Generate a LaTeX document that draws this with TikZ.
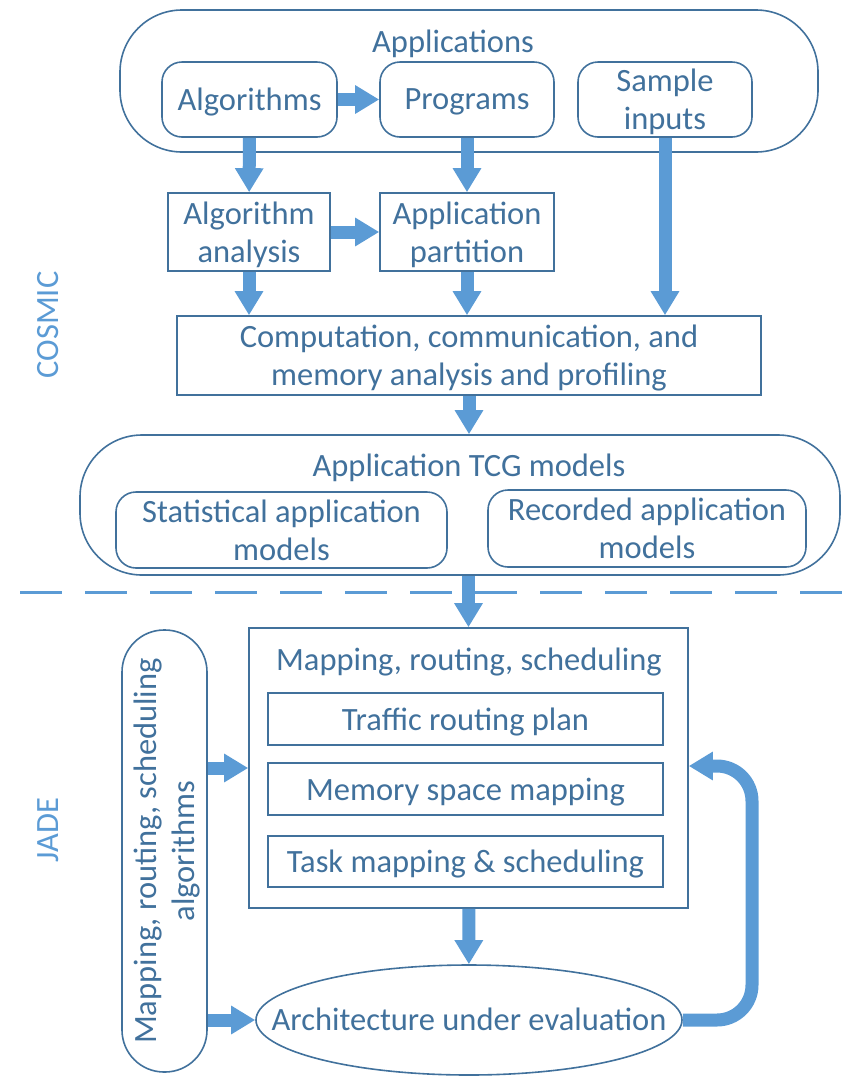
\documentclass[tikz,border=0pt]{standalone}
\usepackage{fontspec}
\setmainfont{Carlito}
\usetikzlibrary{arrows.meta,shapes.geometric}
\definecolor{lineblue}{RGB}{65,113,156}
\definecolor{arrowblue}{RGB}{91,155,213}

\begin{document}
\begin{tikzpicture}[x=1pt,y=-1pt]
    \useasboundingbox (0,0) rectangle (844,1085);

    \tikzset{
        textstyle/.style={text=lineblue, inner sep=0pt, align=center, text depth=0pt,
            font=\fontsize{32.5}{38}\selectfont},
        boxstyle/.style={textstyle, draw=lineblue, line width=1.6pt},
        roundstyle/.style={boxstyle, rounded corners=20pt},
        groupstyle/.style={boxstyle, rounded corners=62pt},
        sidestyle/.style={text=arrowblue, rotate=90, inner sep=0pt,
            font=\fontsize{32.5}{38}\selectfont},
        fatarrow/.style={draw=arrowblue, line width=13pt,
            -{Triangle[width=27pt,length=24pt]}}
    }

    % COSMIC part
    \node[groupstyle, minimum width=698pt, minimum height=142pt] (apps) at (469,81) {};
    \node[textstyle] (appstitle) at (453,41) {Applications};
    \node[roundstyle, minimum width=175pt, minimum height=75pt] (algo) at (249.5,99.5) {Algorithms};
    \node[roundstyle, minimum width=174pt, minimum height=75pt] (prog) at (467,99.5) {Programs};
    \node[roundstyle, minimum width=174pt, minimum height=75pt] (sample) at (665,99.5) {Sample\\inputs};

    \node[boxstyle, minimum width=162pt, minimum height=78pt] (anal) at (249,232) {Algorithm\\analysis};
    \node[boxstyle, minimum width=174pt, minimum height=78pt] (part) at (467,232) {Application\\partition};
    \node[boxstyle, minimum width=584pt, minimum height=79pt] (comp) at (469,355.5)
        {Computation, communication, and\\memory analysis and profiling};

    \node[groupstyle, minimum width=760pt, minimum height=140pt] (tcg) at (460,505) {};
    \node[textstyle] (tcgtitle) at (469,465) {Application TCG models};
    \node[roundstyle, minimum width=331pt, minimum height=76pt] (stat) at (281.5,530)
        {Statistical application\\models};
    \node[roundstyle, minimum width=318pt, minimum height=77pt] (rec) at (647,528.5)
        {Recorded application\\models};

    \draw[arrowblue, line width=3pt, dash pattern=on 42pt off 23pt] (20,592) -- (844,592);

    % JADE part
    \node[boxstyle, minimum width=439pt, minimum height=280pt] (map) at (468.5,768) {};
    \node[textstyle] (maptitle) at (469,659) {Mapping, routing, scheduling};
    \node[boxstyle, minimum width=395pt, minimum height=52pt] (route) at (465.5,719) {Traffic routing plan};
    \node[boxstyle, minimum width=395pt, minimum height=52pt] (mem) at (465.5,789) {Memory space mapping};
    \node[boxstyle, minimum width=395pt, minimum height=51pt] (task) at (465.5,861.5) {Task mapping \& scheduling};

    \node[boxstyle, ellipse, minimum width=426pt, minimum height=110pt] (arch) at (469,1020) {};
    \node[textstyle] (archtext) at (469,1019) {Architecture under evaluation};
    \node[boxstyle, rotate=90, rounded corners=42pt, minimum width=442pt, minimum height=85pt] (lb)
        at (164.5,851) {Mapping, routing, scheduling\\algorithms};

    \node[sidestyle] (cosmic) at (48,325) {COSMIC};
    \node[sidestyle] (jade) at (48,830) {JADE};

    \coordinate (fb) at (752,766);

    \begin{scope}[every path/.style={fatarrow}]
        \draw (algo) -- (prog);
        \draw (algo) -- (anal);
        \draw (prog) -- (part);
        \draw (anal) -- (part);
        \draw (sample.south) -- (sample.south |- comp.north);
        \draw (anal) -- (anal.south |- comp.north);
        \draw (part) -- (part.south |- comp.north);
        \draw (comp) -- (comp.south |- tcg.north);
        \draw (map.north |- tcg.south) -- (map);
        \draw (map) -- (arch);
        \draw (lb.south |- map.west) -- (map.west);
        \draw (lb.south |- arch.west) -- (arch.west);
        \draw[rounded corners=35pt] (arch.east) -| (fb) -- (map.east |- fb);
    \end{scope}
\end{tikzpicture}
\end{document}
